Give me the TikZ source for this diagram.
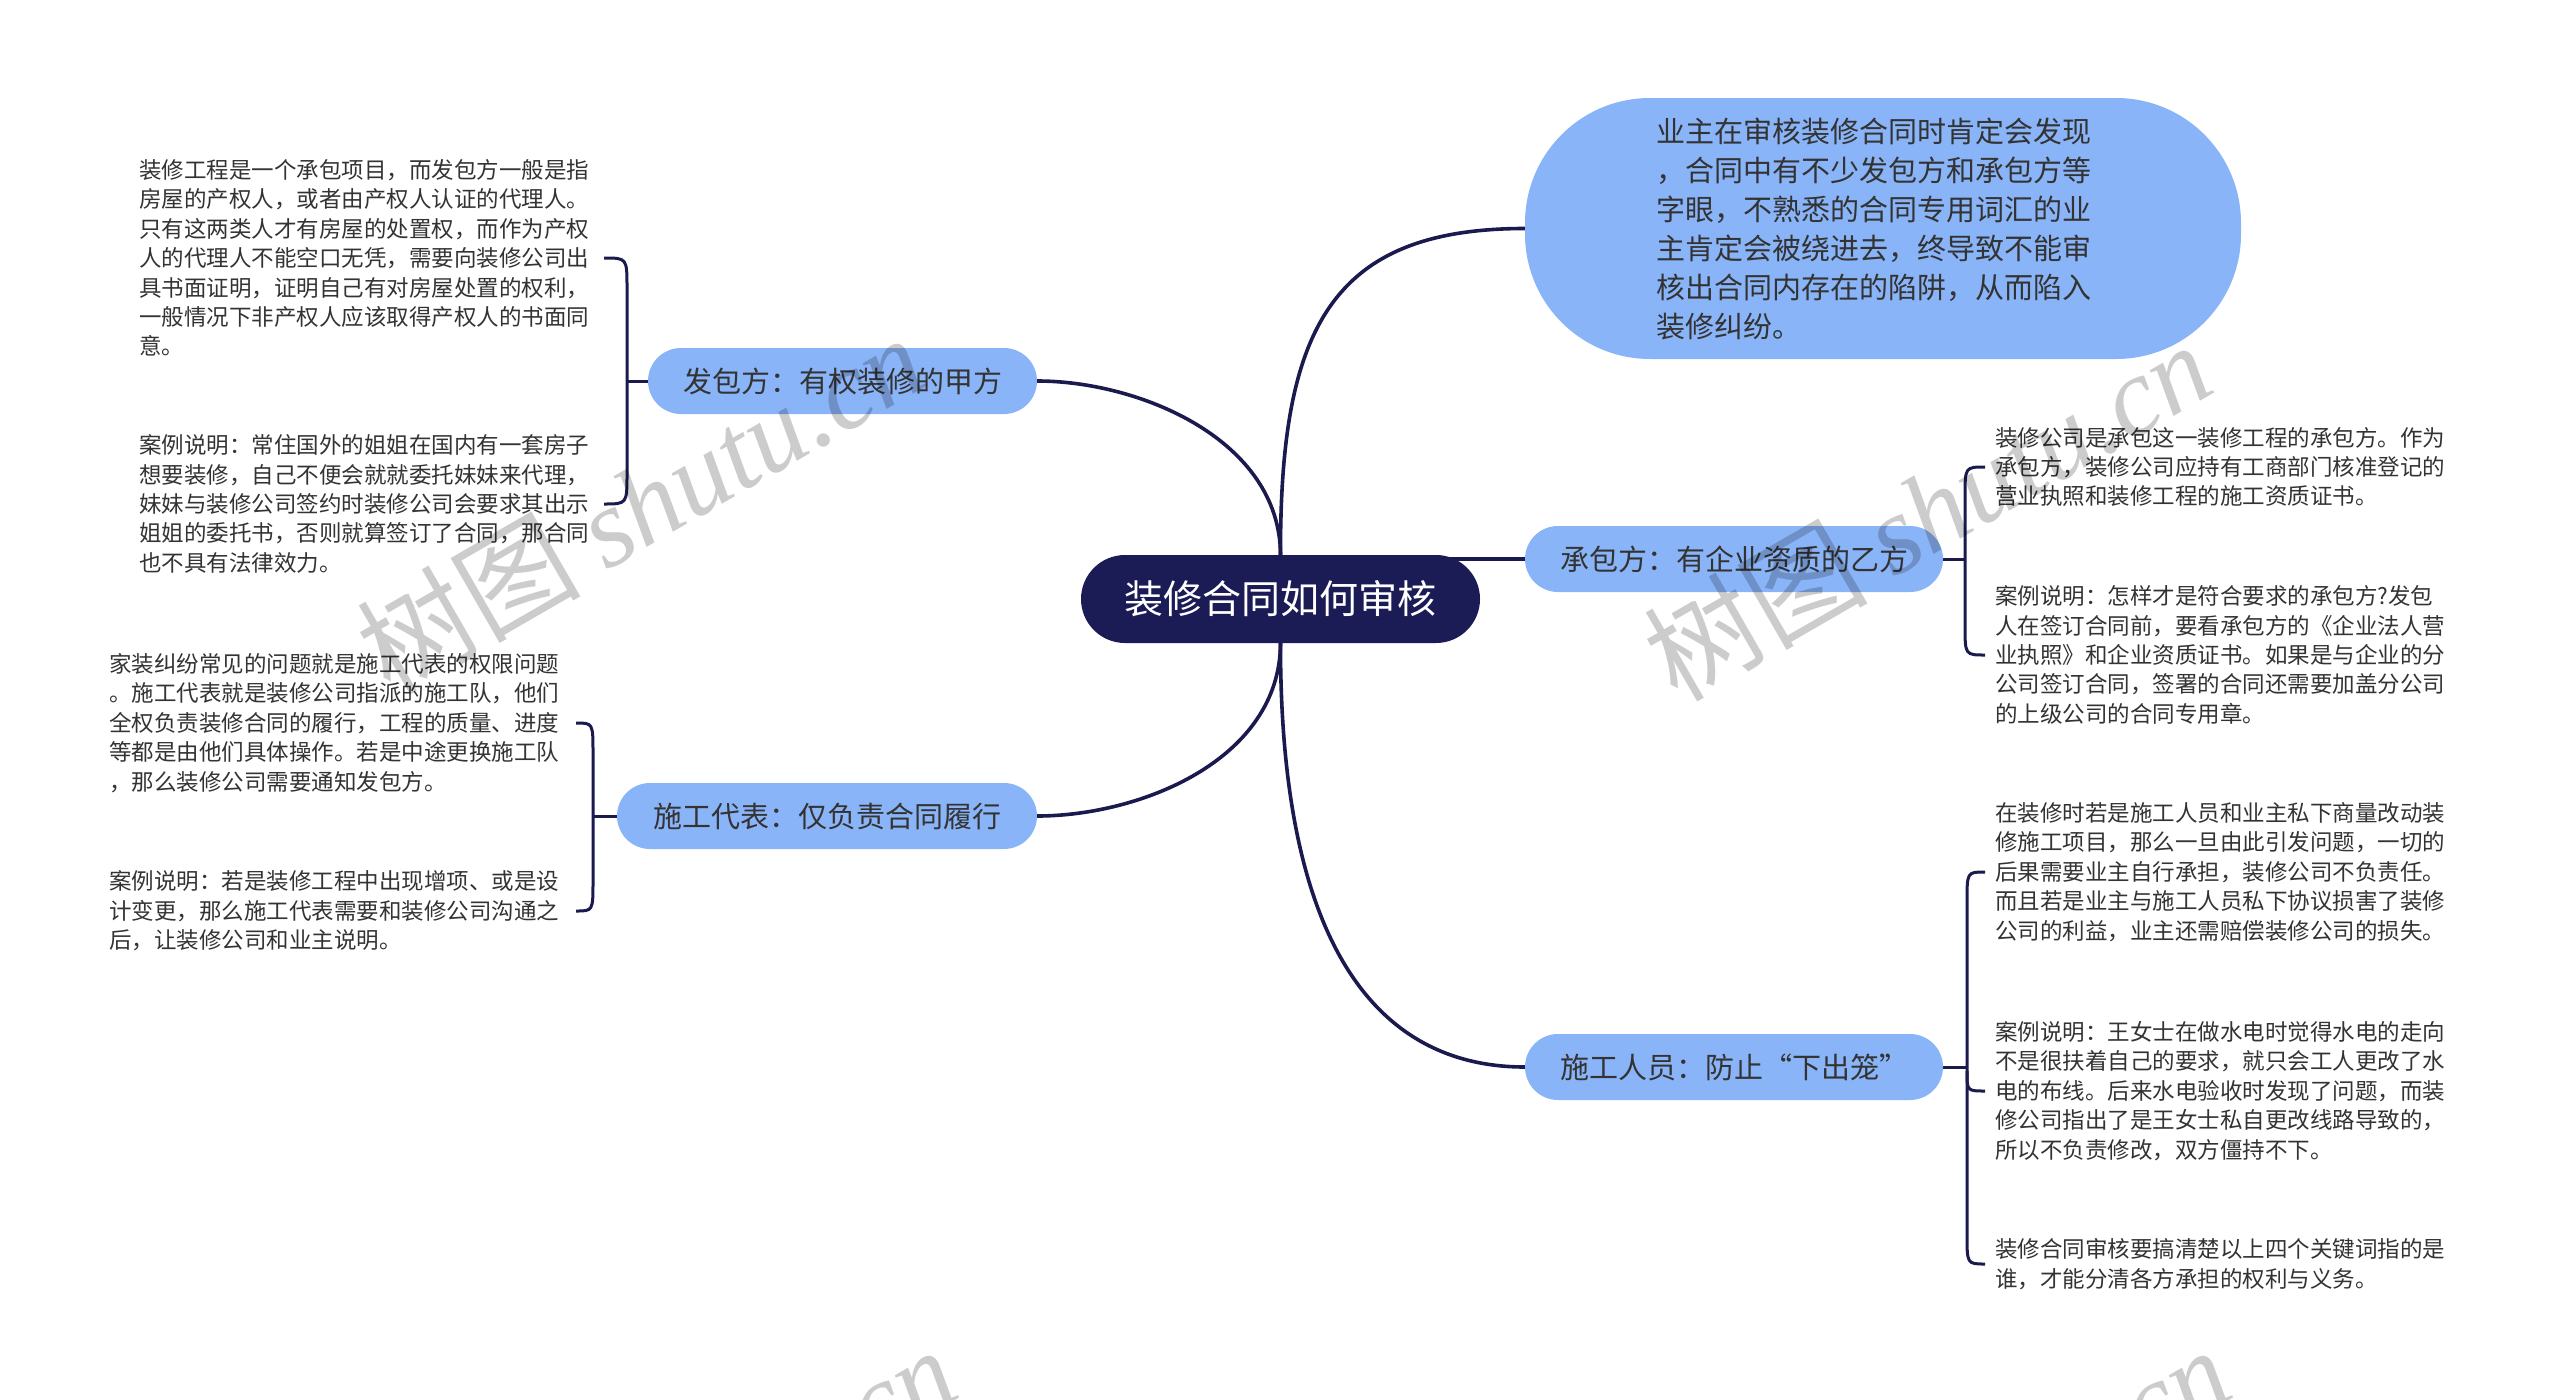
\documentclass[tikz,border=0pt]{standalone}
\usepackage{fontspec}
\setmainfont{Noto Sans CJK SC}
\newfontfamily\wmserif{Liberation Serif}
\usetikzlibrary{calc}
\pgfdeclarelayer{bg}
\pgfsetlayers{bg,main}
\definecolor{navy}{HTML}{1B1B55}
\definecolor{linec}{HTML}{1A1A4E}
\definecolor{bluef}{HTML}{8AB4F8}
\definecolor{txt}{HTML}{333333}
\tikzset{
 rootbox/.style={fill=navy, text=white, rounded corners=44pt, minimum width=399pt, minimum height=88pt, inner sep=0pt, font=\fontsize{39}{46}\selectfont},
 branchbox/.style={fill=bluef, text=txt, rounded corners=33pt, minimum height=66pt, inner sep=0pt, font=\fontsize{29}{35}\selectfont},
 bubblebox/.style={fill=bluef, text=txt, rounded corners=125pt, minimum width=716pt, minimum height=261pt, inner sep=0pt, text width=454pt, align=left, font=\fontsize{29}{39}\selectfont},
 leaf/.style={anchor=west, align=left, inner sep=0pt, text=txt, font=\fontsize{22.5}{29.4}\selectfont},
 conn/.style={draw=linec, line width=3.6pt},
 brk/.style={draw=linec, line width=3pt},
 wm/.style={text=black, opacity=0.2, rotate=30, font=\fontsize{112}{120}\selectfont}
}
\begin{document}
\begin{tikzpicture}[x=1pt,y=-1pt]
\useasboundingbox (0,0) rectangle (2560,1400);

% central and branch nodes
\node[rootbox] (root) at (1280.5,599) {装修合同如何审核};
\node[bubblebox] (bub) at (1883,228.5) {业主在审核装修合同时肯定会发现\\，合同中有不少发包方和承包方等\\字眼，不熟悉的合同专用词汇的业\\主肯定会被绕进去，终导致不能审\\核出合同内存在的陷阱，从而陷入\\装修纠纷。};
\node[branchbox, minimum width=418pt] (cb) at (1734,559) {承包方：有企业资质的乙方};
\node[branchbox, minimum width=418pt] (sr) at (1734,1067) {施工人员：防止“下出笼”};
\node[branchbox, minimum width=389pt] (fb) at (842.5,381) {发包方：有权装修的甲方};
\node[branchbox, minimum width=420pt] (sd) at (827,816) {施工代表：仅负责合同履行};

% leaves
\node[leaf] (l1) at (139,258) {装修工程是一个承包项目，而发包方一般是指\\房屋的产权人，或者由产权人认证的代理人。\\只有这两类人才有房屋的处置权，而作为产权\\人的代理人不能空口无凭，需要向装修公司出\\具书面证明，证明自己有对房屋处置的权利，\\一般情况下非产权人应该取得产权人的书面同\\意。};
\node[leaf] (l2) at (139,504) {案例说明：常住国外的姐姐在国内有一套房子\\想要装修，自己不便会就就委托妹妹来代理，\\妹妹与装修公司签约时装修公司会要求其出示\\姐姐的委托书，否则就算签订了合同，那合同\\也不具有法律效力。};
\node[leaf] (l3) at (109,723) {家装纠纷常见的问题就是施工代表的权限问题\\。施工代表就是装修公司指派的施工队，他们\\全权负责装修合同的履行，工程的质量、进度\\等都是由他们具体操作。若是中途更换施工队\\，那么装修公司需要通知发包方。};
\node[leaf] (l4) at (109,911) {案例说明：若是装修工程中出现增项、或是设\\计变更，那么施工代表需要和装修公司沟通之\\后，让装修公司和业主说明。};
\node[leaf] (r1) at (1995,467) {装修公司是承包这一装修工程的承包方。作为\\承包方，装修公司应持有工商部门核准登记的\\营业执照和装修工程的施工资质证书。};
\node[leaf] (r2) at (1995,655) {案例说明：怎样才是符合要求的承包方?发包\\人在签订合同前，要看承包方的《企业法人营\\业执照》和企业资质证书。如果是与企业的分\\公司签订合同，签署的合同还需要加盖分公司\\的上级公司的合同专用章。};
\node[leaf] (r3) at (1995,872) {在装修时若是施工人员和业主私下商量改动装\\修施工项目，那么一旦由此引发问题，一切的\\后果需要业主自行承担，装修公司不负责任。\\而且若是业主与施工人员私下协议损害了装修\\公司的利益，业主还需赔偿装修公司的损失。};
\node[leaf] (r4) at (1995,1091) {案例说明：王女士在做水电时觉得水电的走向\\不是很扶着自己的要求，就只会工人更改了水\\电的布线。后来水电验收时发现了问题，而装\\修公司指出了是王女士私自更改线路导致的，\\所以不负责修改，双方僵持不下。};
\node[leaf] (r5) at (1995,1264) {装修合同审核要搞清楚以上四个关键词指的是\\谁，才能分清各方承担的权利与义务。};

% bracket coordinates
\coordinate (fbT) at (604,258); \coordinate (fbB) at (604,504); \coordinate (fbJ) at (627,381);
\coordinate (sdT) at (576,723); \coordinate (sdB) at (576,911); \coordinate (sdJ) at (593,816);
\coordinate (cbT) at (1985,467); \coordinate (cbB) at (1985,655); \coordinate (cbJ) at (1965,559);
\coordinate (srT) at (1985,872); \coordinate (srB) at (1985,1264); \coordinate (srM) at (1985,1091); \coordinate (srJ) at (1967,1067);

\begin{pgfonlayer}{bg}
\fill[white] (0,0) rectangle (2560,1400);
\draw[conn] (root.north) .. controls (1280,330) and (1330,228.5) .. (bub.west);
\draw[conn] (root.north) .. controls (1280,440) and (1140,381) .. (fb.east);
\draw[conn] (root.south) .. controls (1280,760) and (1140,816) .. (sd.east);
\draw[conn] (root.south) .. controls (1280,950) and (1380,1067) .. (sr.west);
\draw[conn] (root.center |- cb.west) -- (cb.west);
% brackets
\draw[brk] (fb.west) -- (fbJ);
\draw[brk] (fbT) .. controls (627,258) .. (627,288) -- (627,474) .. controls (627,504) .. (fbB);
\draw[brk] (sd.west) -- (sdJ);
\draw[brk] (sdT) .. controls (593,723) .. (593,753) -- (593,881) .. controls (593,911) .. (sdB);
\draw[brk] (cb.east) -- (cbJ);
\draw[brk] (cbT) .. controls (1965,467) .. (1965,497) -- (1965,625) .. controls (1965,655) .. (cbB);
\draw[brk] (sr.east) -- (srJ);
\draw[brk] (srT) .. controls (1967,872) .. (1967,902) -- (1967,1234) .. controls (1967,1264) .. (srB);
\draw[brk] (1967,1071) .. controls (1967,1091) .. (srM);
\end{pgfonlayer}

% watermarks
\node[wm] (w1) at (640,503) {树图 {\wmserif\itshape shutu.cn}};
\node[wm] (w2) at (1927,510) {树图 {\wmserif\itshape shutu.cn}};
\node[wm] (w3) at (672,1515) {树图 {\wmserif\itshape shutu.cn}};
\node[wm] (w4) at (1946,1515) {树图 {\wmserif\itshape shutu.cn}};
\end{tikzpicture}
\end{document}
